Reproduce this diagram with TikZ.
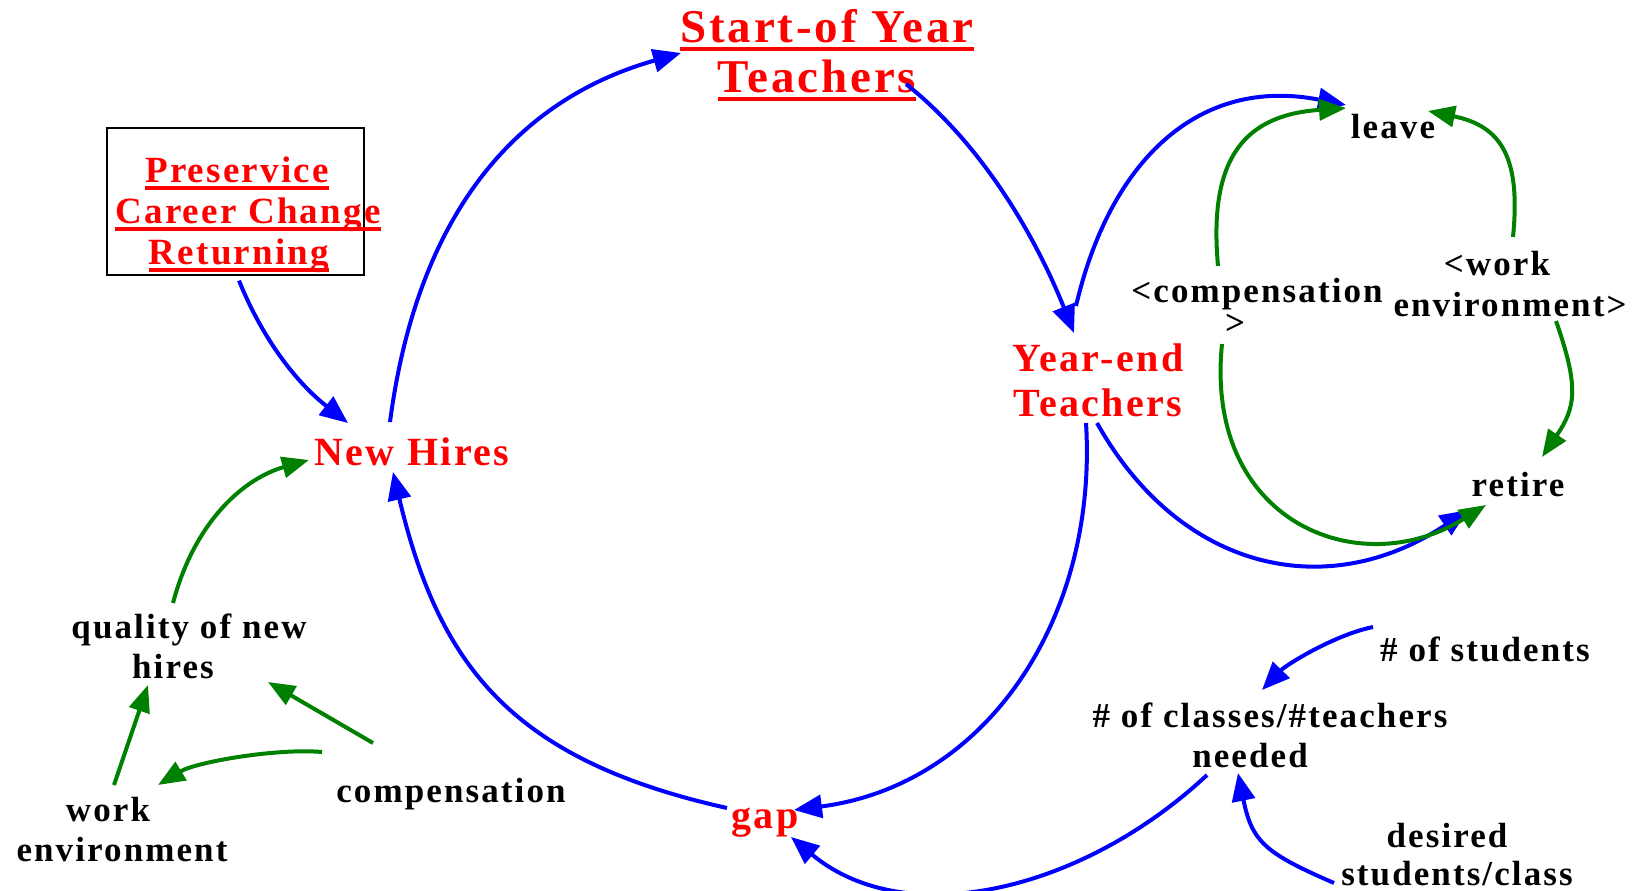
\documentclass[tikz,border=0pt]{standalone}
\usepackage{fontspec}
\setmainfont{Liberation Serif}
\newfontfamily\lblfont{Liberation Serif}[LetterSpace=6]
\usetikzlibrary{arrows.meta}
\definecolor{arrblue}{RGB}{0,0,255}
\definecolor{arrgreen}{RGB}{0,128,0}
\definecolor{txtred}{RGB}{255,0,0}
\newsavebox\ulbox
\newcommand{\redul}[1]{\sbox\ulbox{#1}\rlap{\rule[-8pt]{\wd\ulbox}{4pt}}\usebox\ulbox}
\newcommand{\stk}[1]{\begin{tabular}[t]{@{}c@{}}#1\end{tabular}}
\begin{document}
\begin{tikzpicture}[x=1pt,y=-1pt,
  lbl/.style={inner sep=0pt, anchor=base, text=black, font=\lblfont\bfseries\fontsize{35}{40}\selectfont},
  redbig/.style={lbl, text=txtred, font=\lblfont\bfseries\fontsize{47}{50}\selectfont},
  redmid/.style={lbl, text=txtred, font=\lblfont\bfseries\fontsize{40}{45}\selectfont},
  redpre/.style={lbl, text=txtred, font=\lblfont\bfseries\fontsize{37}{41}\selectfont},
  boxst/.style={draw=black, line width=1.2pt, inner sep=0pt, minimum width=257pt, minimum height=147pt},
  arrb/.style={draw=arrblue, line width=4pt, -{Triangle[length=28pt,width=23pt]}},
  arrg/.style={draw=arrgreen, line width=4pt, -{Triangle[length=27pt,width=21pt]}}]
\useasboundingbox (0,0) rectangle (1646,891);
% nodes
\node[boxst] (prebox) at (235.5,201.5) {};
\node[redbig] (sy) at (827,43) {\stk{\redul{Start-of Year}\\\hspace*{-20pt}\redul{Teachers}}};
\node[redpre] (pre) at (248,182) {\stk{\hspace*{-22pt}\redul{Preservice}\\\redul{Career Change}\\\hspace*{-18pt}\redul{Returning}}};
\node[redmid] (nh) at (412,465) {New Hires};
\node[redmid] (ye) at (1098,371) {\stk{Year-end\\Teachers}};
\node[redmid] (gap) at (765,828) {gap};
\node[lbl] (leave) at (1393,138) {leave};
\node[lbl] (comp2) at (1257,302) {\stk{<compensation\\[-8pt]\hspace*{-44pt}>}};
\node[lbl] (work2) at (1510,275) {\stk{\hspace*{-26pt}<work\\[1pt]environment>}};
\node[lbl] (retire) at (1518,496) {retire};
\node[lbl] (qual) at (189,638) {\stk{quality of new\\\hspace*{-32pt}hires}};
\node[lbl] (workenv) at (122,821) {\stk{\hspace*{-28pt}work\\environment}};
\node[lbl] (comp) at (451,802) {compensation};
\node[lbl] (classes) at (1270,727) {\stk{\# of classes/\#teachers\\\hspace*{-40pt}needed}};
\node[lbl] (students) at (1485,661) {\# of students};
\node[lbl] (desired) at (1457,847) {\stk{\hspace*{-20pt}desired\\[-2pt]students/class}};
% blue connectors
\draw[arrb] ([shift={(-22,-43)}]nh.base) .. controls (416,224) and (508,102) .. ([shift={(-146,10)}]sy.base);
\draw[arrb] ([shift={(79,41)}]sy.base) .. controls (984,146) and (1037,240) .. ([shift={(-24,-38)}]ye.base);
\draw[arrb] ([shift={(-22,-65)}]ye.base) .. controls (1110,160) and (1199,76) .. ([shift={(-47,-33)}]leave.base);
\draw[arrb] ([shift={(-1,52)}]ye.base) .. controls (1180,571) and (1327,604) .. ([shift={(-50,14)}]retire.base);
\draw[arrb] ([shift={(-12,52)}]ye.base) .. controls (1098,618) and (987,785) .. ([shift={(29,-18)}]gap.base);
\draw[arrb] ([shift={(-38,-20)}]gap.base) .. controls (512,760) and (439,666) .. ([shift={(-19,7)}]nh.base);
\draw[arrb] ([shift={(3.5,5)}]prebox.south) .. controls (263,340) and (297,383) .. ([shift={(-64,-42)}]nh.base);
\draw[arrb] ([shift={(-63,48)}]classes.base) .. controls (1083,891) and (906,933) .. ([shift={(26,9)}]gap.base);
\draw[arrb] ([shift={(-112,-34)}]students.base) .. controls (1334,635) and (1286,665) .. ([shift={(-8,-37)}]classes.base);
\draw[arrb] ([shift={(-123,36)}]desired.base) .. controls (1265,853) and (1252,842) .. ([shift={(-32,46)}]classes.base);
% green connectors
\draw[arrg] ([shift={(-39,-36)}]comp2.base) .. controls (1208,156) and (1246,115) .. ([shift={(-47,-30)}]leave.base);
\draw[arrg] ([shift={(-35,42)}]comp2.base) .. controls (1204,522) and (1359,584) .. ([shift={(-32,9)}]retire.base);
\draw[arrg] ([shift={(3,-38)}]work2.base) .. controls (1521,157) and (1501,126) .. ([shift={(35,-27)}]leave.base);
\draw[arrg] ([shift={(46,46)}]work2.base) .. controls (1579,387) and (1576,407) .. ([shift={(24,-39)}]retire.base);
\draw[arrg] ([shift={(-16,-35)}]qual.base) .. controls (195,520) and (245,478) .. ([shift={(-103,-5)}]nh.base);
\draw[arrg] ([shift={(-8,-36)}]workenv.base) -- ([shift={(-41,47)}]qual.base);
\draw[arrg] ([shift={(-78,-59)}]comp.base) -- ([shift={(79,44)}]qual.base);
\draw[arrg] ([shift={(-129,-50)}]comp.base) .. controls (277,748) and (196,762) .. ([shift={(36,-36)}]workenv.base);
\end{tikzpicture}
\end{document}
